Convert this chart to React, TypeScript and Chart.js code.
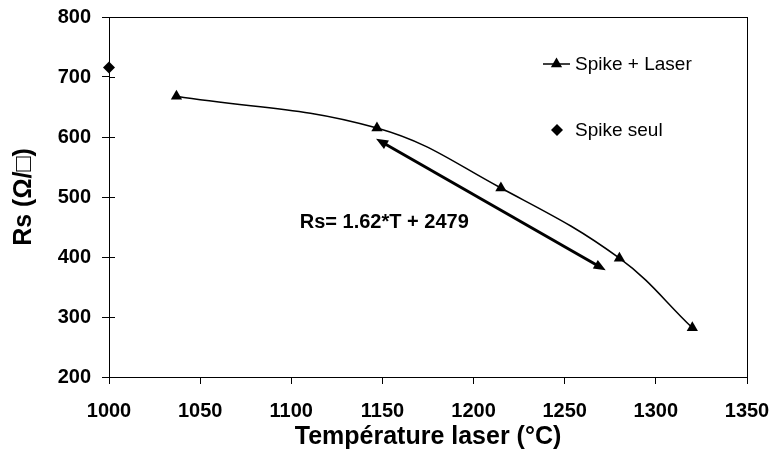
import React, { useEffect, useRef } from "react";
import { Chart, registerables } from "chart.js";

Chart.register(...registerables);

const laserTemps = [1037, 1147, 1215, 1280, 1320];
const laserRs = [668, 615, 515, 398, 282];
const spikeTemps = [1000];
const spikeRs = [716];
const xTicks = [1000, 1050, 1100, 1150, 1200, 1250, 1300, 1350];
const yTicks = [200, 300, 400, 500, 600, 700, 800];
const arrowStart = [1146.5, 597];
const arrowEnd = [1272.5, 378];
const equationLabel = "Rs= 1.62*T + 2479";
const equationPos = [1151, 458];
const seriesNames = ["Spike + Laser", "Spike seul"];
const xTitle = "Température laser (°C)";
const yTitle = "Rs (Ω/□)";

const FONT = "'Liberation Sans', Arial, sans-serif";

const decorPlugin = {
  id: "decor",
  afterDatasetsDraw(chart: any) {
    const { ctx, chartArea: a, scales } = chart;
    const xs = scales.x;
    const ys = scales.y;
    ctx.save();
    ctx.strokeStyle = "#000";
    ctx.lineWidth = 1;
    ctx.strokeRect(Math.round(a.left) + 0.5, Math.round(a.top) + 0.5, Math.round(a.right - a.left), Math.round(a.bottom - a.top));
    ctx.beginPath();
    for (const v of yTicks) {
      const y = Math.round(ys.getPixelForValue(v)) + 0.5;
      ctx.moveTo(a.left, y);
      ctx.lineTo(a.left + 6, y);
    }
    ctx.stroke();

    const x1 = xs.getPixelForValue(arrowStart[0]);
    const y1 = ys.getPixelForValue(arrowStart[1]);
    const x2 = xs.getPixelForValue(arrowEnd[0]);
    const y2 = ys.getPixelForValue(arrowEnd[1]);
    const ang = Math.atan2(y2 - y1, x2 - x1);
    const hl = 12;
    const hw = 5;
    const ux = Math.cos(ang), uy = Math.sin(ang);
    ctx.lineWidth = 3;
    ctx.beginPath();
    ctx.moveTo(x1 + ux * (hl - 2), y1 + uy * (hl - 2));
    ctx.lineTo(x2 - ux * (hl - 2), y2 - uy * (hl - 2));
    ctx.stroke();
    const head = (tx: number, ty: number, dx: number, dy: number) => {
      ctx.beginPath();
      ctx.moveTo(tx, ty);
      ctx.lineTo(tx - dx * hl - dy * hw, ty - dy * hl + dx * hw);
      ctx.lineTo(tx - dx * hl + dy * hw, ty - dy * hl - dx * hw);
      ctx.closePath();
      ctx.fillStyle = "#000";
      ctx.fill();
    };
    head(x2, y2, ux, uy);
    head(x1, y1, -ux, -uy);

    ctx.fillStyle = "#000";
    ctx.font = `bold 20px ${FONT}`;
    ctx.textAlign = "center";
    ctx.textBaseline = "middle";
    ctx.fillText(equationLabel, xs.getPixelForValue(equationPos[0]), ys.getPixelForValue(equationPos[1]));

    ctx.font = `19px ${FONT}`;
    ctx.textAlign = "left";
    const lx = 543, ly1 = 64, ly2 = 130, tx = 575;
    ctx.lineWidth = 1.5;
    ctx.beginPath();
    ctx.moveTo(lx, ly1);
    ctx.lineTo(lx + 27, ly1);
    ctx.stroke();
    const r = 6.5;
    const cx = lx + 13.5;
    ctx.beginPath();
    ctx.moveTo(cx, ly1 - r);
    ctx.lineTo(cx + r * 0.866, ly1 + r * 0.5);
    ctx.lineTo(cx - r * 0.866, ly1 + r * 0.5);
    ctx.closePath();
    ctx.fill();
    ctx.fillText(seriesNames[0], tx, ly1 + 1);
    const dx = 557, dr = 6;
    ctx.beginPath();
    ctx.moveTo(dx, ly2 - dr);
    ctx.lineTo(dx + dr, ly2);
    ctx.lineTo(dx, ly2 + dr);
    ctx.lineTo(dx - dr, ly2);
    ctx.closePath();
    ctx.fill();
    ctx.fillText(seriesNames[1], tx, ly2 + 1);
    ctx.restore();
  },
};

export default function App() {
  const ref = useRef<HTMLCanvasElement | null>(null);
  useEffect(() => {
    if (!ref.current) return;
    const chart = new Chart(ref.current, {
      type: "scatter",
      data: {
        datasets: [
          {
            label: seriesNames[0],
            data: laserTemps.map((t, i) => ({ x: t, y: laserRs[i] })),
            showLine: true,
            borderColor: "#000",
            backgroundColor: "#000",
            borderWidth: 1.5,
            tension: 0.4,
            pointStyle: "triangle",
            pointRadius: 6.5,
            pointBorderWidth: 0,
          },
          {
            label: seriesNames[1],
            data: spikeTemps.map((t, i) => ({ x: t, y: spikeRs[i] })),
            showLine: false,
            borderColor: "#000",
            backgroundColor: "#000",
            pointStyle: "rectRot",
            pointRadius: 6,
            pointBorderWidth: 0,
          },
        ],
      },
      options: {
        animation: false,
        responsive: true,
        maintainAspectRatio: false,
        clip: false as any,
        layout: { padding: { top: 17, right: 26, bottom: 0, left: 0 } },
        plugins: { legend: { display: false }, tooltip: { enabled: false } },
        scales: {
          x: {
            type: "linear",
            min: 1000,
            max: 1350,
            afterBuildTicks: (s: any) => {
              s.ticks = xTicks.map((v) => ({ value: v }));
            },
            afterFit: (s: any) => {
              s.height = 82;
              s.paddingLeft = 0;
              s.paddingRight = 0;
            },
            grid: { drawOnChartArea: false, drawTicks: true, tickLength: 7, color: "#000" },
            border: { color: "#000", width: 1 },
            ticks: {
              color: "#000",
              font: { family: FONT, size: 20, weight: "bold" },
              padding: 15,
              maxRotation: 0,
              callback: (v: any) => String(v),
            },
            title: { display: true, text: xTitle, color: "#000", font: { family: FONT, size: 25, weight: "bold" }, padding: { top: 0, bottom: 7 } },
          },
          y: {
            type: "linear",
            min: 200,
            max: 800,
            afterBuildTicks: (s: any) => {
              s.ticks = yTicks.map((v) => ({ value: v }));
            },
            afterFit: (s: any) => {
              s.width = 109;
              s.paddingTop = 0;
              s.paddingBottom = 0;
            },
            grid: { drawOnChartArea: false, drawTicks: true, tickLength: 7, color: "#000" },
            border: { color: "#000", width: 1 },
            ticks: {
              color: "#000",
              font: { family: FONT, size: 20, weight: "bold" },
              padding: 11,
              callback: (v: any) => String(v),
            },
            title: { display: true, text: yTitle, color: "#000", font: { family: FONT, size: 25, weight: "bold" }, padding: { top: 9, bottom: 0 } },
          },
        },
      },
      plugins: [decorPlugin],
    });
    return () => chart.destroy();
  }, []);
  return (
    <div style={{ position: "fixed", left: 0, top: 0, width: 773, height: 459, background: "#fff" }}>
      <canvas ref={ref} />
    </div>
  );
}
